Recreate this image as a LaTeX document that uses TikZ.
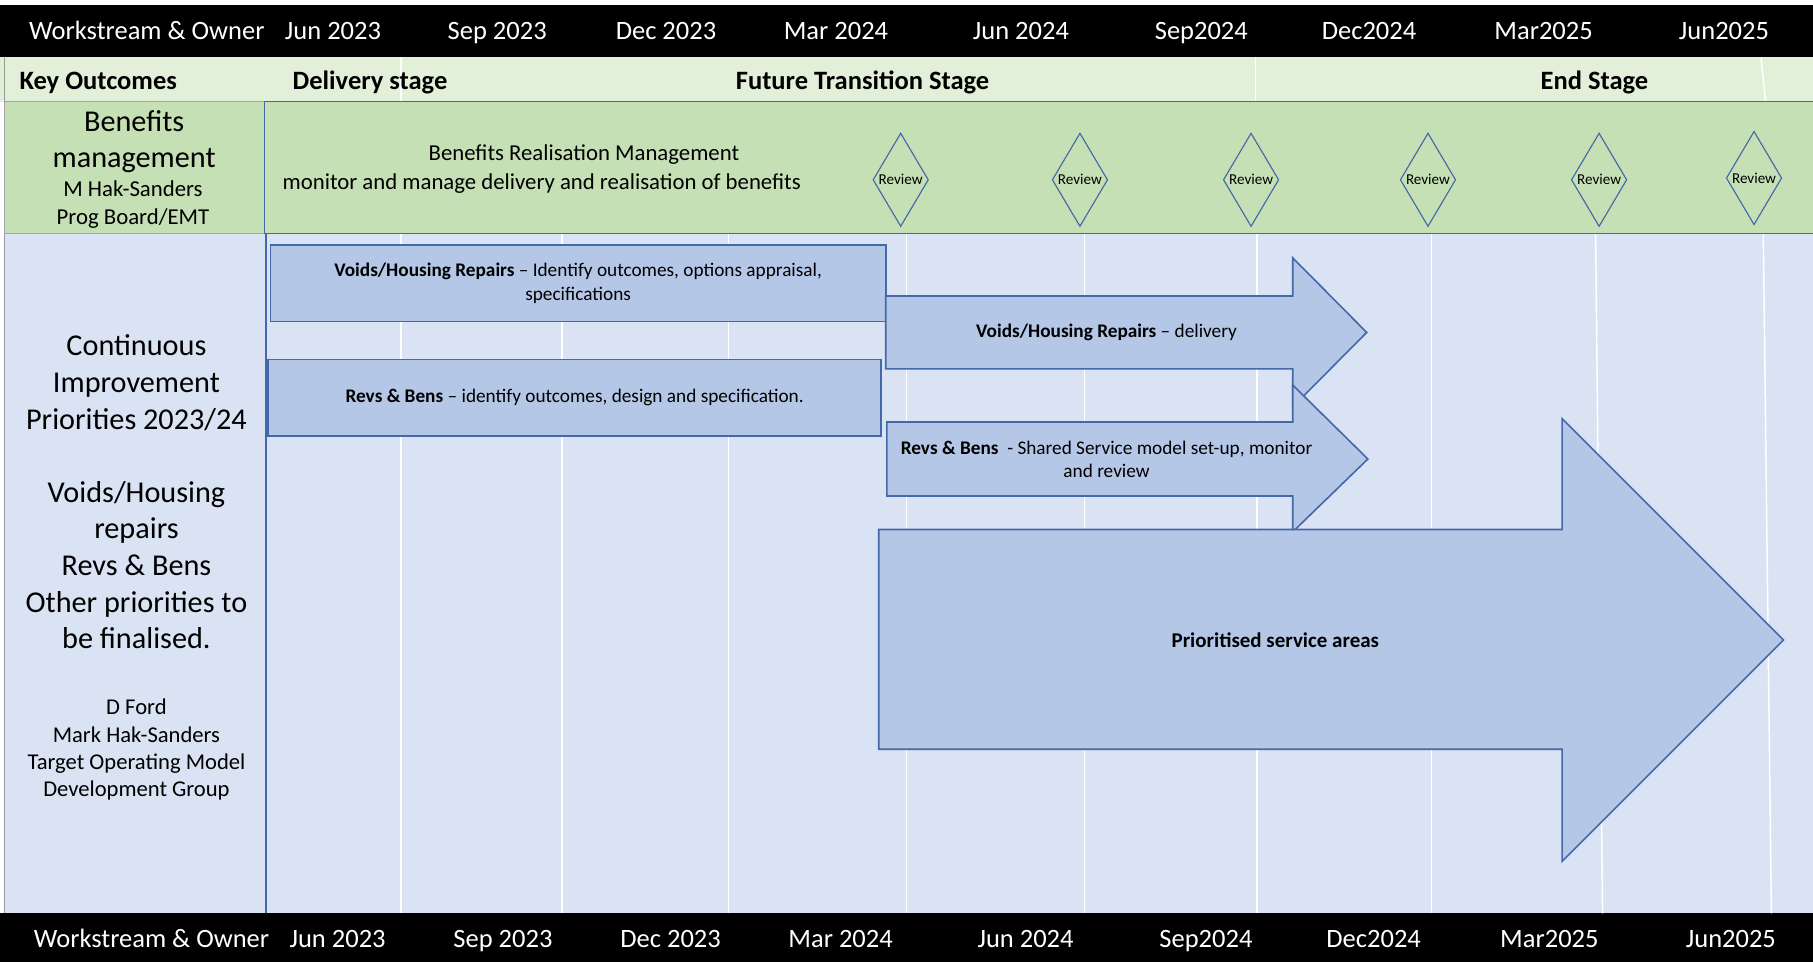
\documentclass[tikz,border=0pt]{standalone}
\usepackage{fontspec}
\setmainfont{Carlito}
\usetikzlibrary{shapes.geometric}
\definecolor{keygreen}{HTML}{E2F0D9}
\definecolor{bengreen}{HTML}{C5E0B4}
\definecolor{paleblue}{HTML}{DAE3F3}
\definecolor{boxblue}{HTML}{B4C7E7}
\definecolor{edgeblue}{RGB}{68,104,170}

\begin{document}
\begin{tikzpicture}[x=0.025cm,y=-0.025cm,
  hdr/.style={text=white,text height=0.72em,text depth=0.22em,font=\fontsize{16.3}{19}\selectfont},
  stage/.style={text height=0.72em,text depth=0.22em,font=\bfseries\fontsize{16.3}{19}\selectfont},
  gridline/.style={white,line width=0.9pt},
  bar/.style={fill=boxblue,draw=edgeblue,line width=1pt},
  bartext/.style={align=center,font=\fontsize{11.85}{14.2}\selectfont},
  review/.style={diamond,draw=edgeblue,line width=0.7pt,inner sep=0pt,
    minimum width=1.2cm,minimum height=2.02cm,font=\fontsize{9.3}{10}\selectfont}]
\useasboundingbox (0,0) rectangle (1568,832);
\fill[white] (0,0) rectangle (1568,832);
\fill[black] (0,4.5) rectangle (1568,49.5);
\fill[keygreen] (0,49.5) rectangle (1568,88);
\fill[paleblue] (4,202) rectangle (1568,790);
\fill[black] (0,790) rectangle (1568,832);
\draw[gray!80] (4,49.5) -- (4,790);
% month lines
\draw[gridline] (347,49.5) -- (347,88);
\draw[gridline] (1086,49.5) -- (1086,88);
\draw[gridline] (1523,49.5) -- (1527,88);
\draw[gridline] (347,202) -- (347,790);
\draw[gridline] (486,202) -- (486,790);
\draw[gridline] (630,202) -- (630,790);
\draw[gridline] (784,202) -- (784,790);
\draw[gridline] (938,202) -- (938,790);
\draw[gridline] (1087,202) -- (1087,790);
\draw[gridline] (1238,202) -- (1238,790);
\draw[gridline] (1380,202) -- (1386,790);
\draw[gridline] (1525,202) -- (1532,790);
\draw[edgeblue,line width=0.8pt] (230,202) -- (230,790);
\draw[fill=bengreen,draw=gray!70] (4,88) rectangle (229,202);
\draw[fill=bengreen,draw=edgeblue,line width=0.8pt] (229,88) rectangle (1570,202);

% headers
\node[hdr] (wsTop) at (127,31) {Workstream \& Owner};
\node[hdr] (jun23Top) at (288,31) {Jun 2023};
\node[hdr] (sep23Top) at (430,31) {Sep 2023};
\node[hdr] (dec23Top) at (576,31) {Dec 2023};
\node[hdr] (mar24Top) at (723,31) {Mar 2024};
\node[hdr] (jun24Top) at (883,31) {Jun 2024};
\node[hdr] (sep24Top) at (1039,31) {Sep2024};
\node[hdr] (dec24Top) at (1184,31) {Dec2024};
\node[hdr] (mar25Top) at (1335,31) {Mar2025};
\node[hdr] (jun25Top) at (1491,31) {Jun2025};
\node[hdr] (wsBot) at (131,816) {Workstream \& Owner};
\node[hdr] (jun23Bot) at (292,816) {Jun 2023};
\node[hdr] (sep23Bot) at (435,816) {Sep 2023};
\node[hdr] (dec23Bot) at (580,816) {Dec 2023};
\node[hdr] (mar24Bot) at (727,816) {Mar 2024};
\node[hdr] (jun24Bot) at (887,816) {Jun 2024};
\node[hdr] (sep24Bot) at (1043,816) {Sep2024};
\node[hdr] (dec24Bot) at (1188,816) {Dec2024};
\node[hdr] (mar25Bot) at (1340,816) {Mar2025};
\node[hdr] (jun25Bot) at (1497,816) {Jun2025};

\node[stage,anchor=west] (keyOut) at (12,73.5) {Key Outcomes};
\node[stage] (delivery) at (320,73.5) {Delivery stage};
\node[stage] (future) at (746,73.5) {Future Transition Stage};
\node[stage] (endStage) at (1379,73.5) {End Stage};

% benefits row
\node[align=center,font=\fontsize{18.6}{22.7}\selectfont] (benName) at (116,122.5) {Benefits\\management};
\node[align=center,font=\fontsize{14}{17}\selectfont] (benOwner) at (115,177) {M Hak-Sanders\\Prog Board/EMT};
\node[font=\fontsize{14}{17}\selectfont] (benTitle) at (505,134) {Benefits Realisation Management};
\node[font=\fontsize{14}{17}\selectfont] (benText) at (468.5,158.5) {monitor and manage delivery and realisation of benefits};
\node[review] (rev1) at (779,155.5) {Review};
\node[review] (rev2) at (934,155.5) {Review};
\node[review] (rev3) at (1082,155.5) {Review};
\node[review] (rev4) at (1235,155.5) {Review};
\node[review] (rev5) at (1383,155.5) {Review};
\node[review] (rev6) at (1517,154) {Review};

% priorities
\node[align=center,font=\fontsize{18.6}{22.5}\selectfont] (ciTitle) at (118,425.5)
  {Continuous\\Improvement\\Priorities 2023/24\\ \mbox{}\\Voids/Housing\\repairs\\Revs \& Bens\\Other priorities to\\be finalised.};
\node[align=center,font=\fontsize{13.9}{16.8}\selectfont] (ciOwner) at (118,648.5)
  {D Ford\\Mark Hak-Sanders\\Target Operating Model\\Development Group};

\node[bar,bartext,minimum width=13.3cm,minimum height=1.65cm] (voidsPlan) at (500,245)
  {\textbf{Voids/Housing Repairs} – Identify outcomes, options appraisal,\\specifications};
\node[bar,bartext,minimum width=13.25cm,minimum height=1.65cm] (revsPlan) at (497,344)
  {\textbf{Revs \& Bens} – identify outcomes, design and specification.};
\draw[bar] (766,256) -- (1118,256) -- (1118,223) -- (1182,287.5) -- (1118,352) -- (1118,319) -- (766,319) -- cycle;
\node[bartext] (voidsDel) at (957,287.5) {\textbf{Voids/Housing Repairs} – delivery};
\draw[bar] (767,365) -- (1118,365) -- (1118,333) -- (1183,397) -- (1118,460) -- (1118,429) -- (767,429) -- cycle;
\node[bartext] (revsDel) at (957,397) {\textbf{Revs \& Bens}\ \ - Shared Service model set-up, monitor\\and review};
\draw[bar] (760,458) -- (1351,458) -- (1351,362) -- (1542.5,553.5) -- (1351,745) -- (1351,648) -- (760,648) -- cycle;
\node[font=\bfseries\fontsize{12.9}{15}\selectfont] (prio) at (1103,553.5) {Prioritised service areas};
\end{tikzpicture}
\end{document}
